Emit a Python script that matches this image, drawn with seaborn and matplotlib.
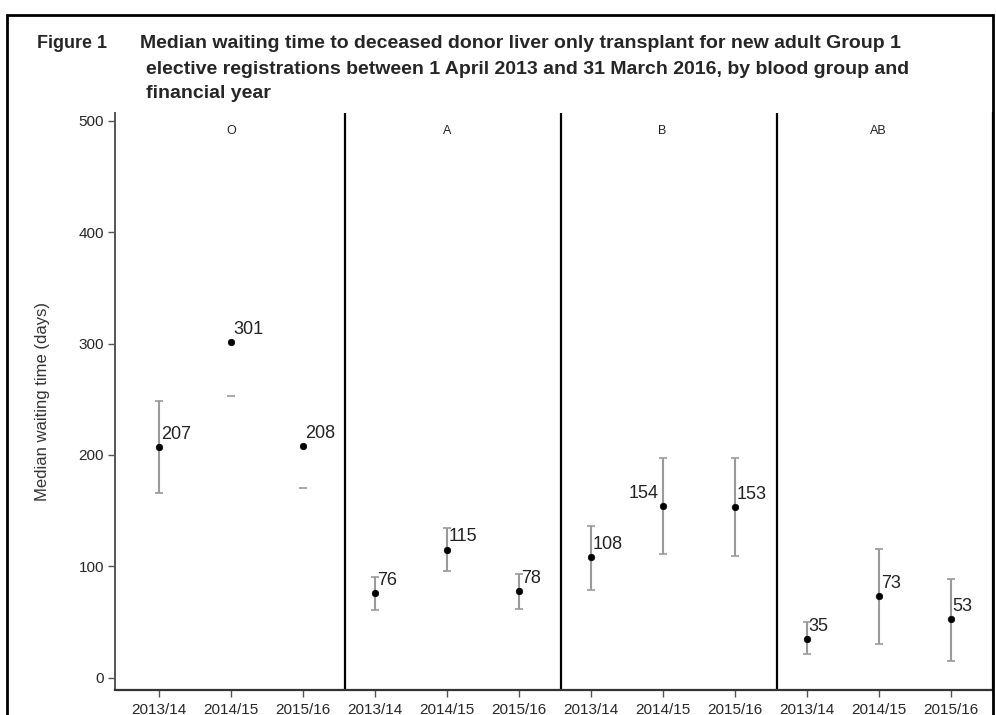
import numpy as np
import pandas as pd
import matplotlib
matplotlib.use("Agg")
import matplotlib.pyplot as plt
from matplotlib.patches import Rectangle
import seaborn as sns

# Median waiting time (days) with 95% confidence limits, by blood group and financial year
blood_groups = ["O", "A", "B", "AB"]
years = ["2013/14", "2014/15", "2015/16"]
median_days = [207, 301, 208, 76, 115, 78, 108, 154, 153, 35, 73, 53]
ci_lower = [166, 253, 170, 61, 96, 62, 79, 111, 109, 21, 30, 15]
ci_upper = [248, np.nan, np.nan, 90, 134, 93, 136, 197, 197, 50, 116, 89]
label_side = ["right", "right", "right", "right", "right", "right",
              "right", "left", "right", "right", "right", "right"]

sns.set_theme(style="white")
plt.rcParams["font.family"] = ["Liberation Sans", "DejaVu Sans"]

df = pd.DataFrame({
    "group": np.repeat(blood_groups, len(years)),
    "year": years * len(blood_groups),
    "median": median_days,
    "lower": ci_lower,
    "upper": ci_upper,
    "side": label_side,
})
df["pos"] = np.arange(len(df))

fig = plt.figure(figsize=(9.96, 7.15), dpi=100)
ax = fig.add_axes([115 / 996, 1 - 690 / 715, (993 - 115) / 996, (690 - 113) / 715])

# confidence intervals
ci_color = "#9a9a9a"
full = df.dropna(subset=["upper"])
ax.errorbar(full["pos"], full["median"],
            yerr=[full["median"] - full["lower"], full["upper"] - full["median"]],
            fmt="none", ecolor=ci_color, elinewidth=1.5, capsize=3, capthick=1.2, zorder=2)
part = df[df["upper"].isna()]
ax.scatter(part["pos"], part["lower"], marker="_", s=40, color=ci_color, linewidths=1.2, zorder=2)

# medians
sns.scatterplot(data=df, x="pos", y="median", color="black", marker="o", s=22,
                edgecolor="black", linewidth=0.5, ax=ax, zorder=3, legend=False)

for _, r in df.iterrows():
    if r["side"] == "right":
        ax.annotate(f"{r['median']}", (r["pos"], r["median"]), xytext=(1.5, 3),
                    textcoords="offset points", ha="left", va="bottom", fontsize=13, color="#222222")
    else:
        ax.annotate(f"{r['median']}", (r["pos"], r["median"]), xytext=(-3, 3),
                    textcoords="offset points", ha="right", va="bottom", fontsize=13, color="#222222")

# panel separators and group headings
n = len(years)
for i, g in enumerate(blood_groups):
    ax.text(i * n + 1, 491, g, ha="center", va="center", fontsize=9, color="#222222")
    if i > 0:
        ax.axvline(i * n - 0.41, color="black", lw=1.6, zorder=1)

ax.set_xlim(-0.61, len(df) - 0.41)
ax.set_ylim(-11, 507)
ax.set_xticks(df["pos"])
ax.set_xticklabels(df["year"], fontsize=11)
ax.set_yticks(np.arange(0, 501, 100))
ax.set_yticklabels([str(v) for v in range(0, 501, 100)], fontsize=11)
ax.tick_params(axis="both", which="both", length=5, width=1, color="#555555",
               direction="out", bottom=True, left=True, pad=4)
ax.tick_params(axis="y", pad=3)
ax.set_xlabel("")
ax.set_ylabel("Median waiting time (days)", fontsize=12, color="#333333")
ax.yaxis.set_label_coords(-0.074, 0.5)
ax.spines["top"].set_visible(False)
ax.spines["left"].set_color("#555555")
ax.spines["left"].set_linewidth(1.4)
ax.spines["bottom"].set_color("#333333")
ax.spines["bottom"].set_linewidth(1.6)
ax.spines["right"].set_color("black")
ax.spines["right"].set_linewidth(1.6)

# title block
fig.text(37 / 996, 1 - 43 / 715, "Figure 1", fontsize=13, fontweight="bold", va="center", ha="left")
fig.text(140 / 996, 1 - 43 / 715,
         "Median waiting time to deceased donor liver only transplant for new adult Group 1",
         fontsize=14, fontweight="bold", va="center", ha="left")
fig.text(146 / 996, 1 - 69 / 715,
         "elective registrations between 1 April 2013 and 31 March 2016, by blood group and",
         fontsize=14, fontweight="bold", va="center", ha="left")
fig.text(146 / 996, 1 - 94 / 715, "financial year",
         fontsize=14, fontweight="bold", va="center", ha="left")

# outer frame
fig.patches.append(Rectangle((7 / 996, -0.05), 986 / 996, 1.05 - 15 / 715,
                             transform=fig.transFigure, fill=False, edgecolor="black", lw=2))

fig.savefig("out.png", dpi=100)
